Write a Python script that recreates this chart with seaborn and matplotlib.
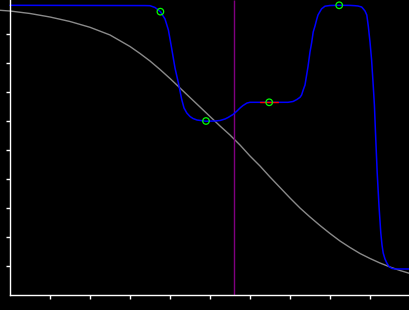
import matplotlib
matplotlib.use("Agg")
import matplotlib.pyplot as plt
import seaborn as sns
import pandas as pd

# Blue curve (normalized 0..1 coordinates)
blue_x = [0.0, 0.3375, 0.35, 0.3625, 0.376, 0.3875, 0.396, 0.404, 0.4125, 0.421, 0.429, 0.435,
          0.442, 0.45, 0.4575, 0.4675, 0.49, 0.5125, 0.525, 0.5375, 0.545, 0.5575, 0.5675, 0.575,
          0.5825, 0.5925, 0.6, 0.625, 0.648, 0.67, 0.695, 0.7075, 0.717, 0.725, 0.729, 0.733,
          0.7375, 0.742, 0.745, 0.75, 0.754, 0.758, 0.7625, 0.767, 0.77, 0.775, 0.779, 0.7875,
          0.8, 0.823, 0.85, 0.8625, 0.87, 0.879, 0.8825, 0.8875, 0.892, 0.896, 0.9, 0.904, 0.908,
          0.911, 0.914, 0.918, 0.9225, 0.927, 0.93, 0.933, 0.9375, 0.942, 0.9475, 0.954, 0.9625, 1.0]
blue_y = [0.999, 0.998, 0.9976, 0.9914, 0.977, 0.9517, 0.9138, 0.8517, 0.7828, 0.731, 0.676, 0.645,
          0.6276, 0.6155, 0.6086, 0.6034, 0.5993, 0.6, 0.6017, 0.6069, 0.612, 0.6224, 0.6345, 0.6448,
          0.6534, 0.662, 0.6645, 0.6645, 0.6645, 0.6645, 0.6645, 0.6672, 0.674, 0.6817, 0.6897, 0.7069,
          0.7241, 0.762, 0.7872, 0.838, 0.869, 0.907, 0.9276, 0.9517, 0.9655, 0.9776, 0.9869, 0.9959,
          0.9983, 0.999, 0.9986, 0.9976, 0.9966, 0.9931, 0.9879, 0.9793, 0.9655, 0.9241, 0.8724, 0.8103, 0.7241,
          0.6552, 0.5517, 0.4207, 0.3069, 0.2138, 0.1724, 0.1448, 0.1241, 0.1103, 0.0983, 0.0921, 0.0897, 0.0897]

# Gray curve
gray_x = [-0.025, 0.0, 0.05, 0.1, 0.15, 0.2, 0.25, 0.3, 0.325, 0.35, 0.375, 0.4, 0.425, 0.45, 0.475,
          0.5, 0.525, 0.55, 0.575, 0.6, 0.625, 0.65, 0.675, 0.7, 0.725, 0.75, 0.775, 0.8, 0.825,
          0.85, 0.875, 0.9, 0.925, 0.95, 0.975, 1.0]
gray_y = [0.9817, 0.9793, 0.9707, 0.9586, 0.9431, 0.9231, 0.8966, 0.8569, 0.8328, 0.8069, 0.7776,
          0.7466, 0.7138, 0.681, 0.6483, 0.6155, 0.5828, 0.5517, 0.5172, 0.4793, 0.4448, 0.4069,
          0.3707, 0.3345, 0.3, 0.269, 0.2397, 0.2121, 0.1862, 0.1638, 0.1431, 0.1259, 0.1103,
          0.0966, 0.0845, 0.0741]

# Control points
ctrl_x = [0.376, 0.49, 0.648, 0.823]
ctrl_y = [0.977, 0.6, 0.6645, 0.999]

# Tangent segment (red)
tan_x = [0.625, 0.67]
tan_y = [0.6645, 0.6645]

# Vertical marker
marker_x = 0.56

ticks = [0.1, 0.2, 0.3, 0.4, 0.5, 0.6, 0.7, 0.8, 0.9]

sns.set_style("dark")
fig = plt.figure(figsize=(4.1, 3.1), dpi=100, facecolor="black")
ax = fig.add_axes([0, 0, 1, 1])
ax.set_facecolor("black")

y_lo, y_hi = -15 / 290, 1 + 5 / 290

sns.lineplot(data=pd.DataFrame({"x": gray_x, "y": gray_y}), x="x", y="y", ax=ax,
             color="#8a8a8a", linewidth=1.0, estimator=None, sort=False)
ax.vlines(marker_x, 0, y_hi, color="#800080", linewidth=1.0)
sns.lineplot(data=pd.DataFrame({"x": blue_x, "y": blue_y}), x="x", y="y", ax=ax,
             color="#0000ff", linewidth=1.1, estimator=None, sort=False)
sns.lineplot(data=pd.DataFrame({"x": tan_x, "y": tan_y}), x="x", y="y", ax=ax,
             color="#ff0000", linewidth=1.0, estimator=None, sort=False)
sns.scatterplot(data=pd.DataFrame({"x": ctrl_x, "y": ctrl_y}), x="x", y="y", ax=ax,
                marker="o", s=22, facecolor="none", edgecolor="#00ff00", linewidth=0.9, zorder=5)

ax.set_xlim(-0.025, 1.0)
ax.set_ylim(y_lo, y_hi)
ax.grid(False)

for side in ["top", "right"]:
    ax.spines[side].set_visible(False)
ax.spines["left"].set_position(("data", 0))
ax.spines["bottom"].set_position(("data", 0))
ax.spines["left"].set_bounds(0, 1.1)
ax.spines["bottom"].set_bounds(0, 1.1)
for side in ["left", "bottom"]:
    ax.spines[side].set_color("white")
    ax.spines[side].set_linewidth(1.0)
    ax.spines[side].set_visible(True)

ax.set_xticks(ticks)
ax.set_yticks(ticks)
ax.set_xticklabels([])
ax.set_yticklabels([])
ax.tick_params(axis="both", direction="out", length=3, width=1.0, color="white",
               bottom=True, left=True)
ax.set_xlabel("")
ax.set_ylabel("")

fig.savefig("out.png", dpi=100, facecolor="black")
